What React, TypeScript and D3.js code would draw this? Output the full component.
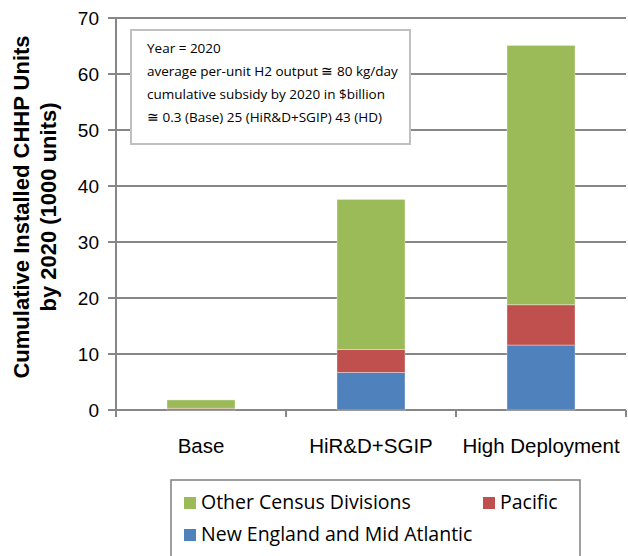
import React from "react";
import * as d3 from "d3";

const categories = ["Base", "HiR&D+SGIP", "High Deployment"];
const newEngland = [0, 6.7, 11.6];
const pacific = [0.3, 4.1, 7.2];
const otherDivisions = [1.5, 26.8, 46.3];
const yTicks = [0, 10, 20, 30, 40, 50, 60, 70];
const seriesNames = ["New England and Mid Atlantic", "Pacific", "Other Census Divisions"];
const colors = ["#4F81BD", "#C0504D", "#9BBB59"];
const noteLines = [
  "Year = 2020",
  "average per-unit H2 output \u2245 80 kg/day",
  "cumulative subsidy by 2020 in $billion",
  "\u2245 0.3 (Base) 25 (HiR&D+SGIP) 43 (HD)",
];

export default function App() {
  const W = 628, H = 556;
  const x0 = 116, x1 = 626, yTop = 18, yBot = 410;
  const x = d3.scaleBand<string>().domain(categories).range([x0, x1]).paddingInner(0.6).paddingOuter(0.3);
  const y = d3.scaleLinear().domain([0, 70]).range([yBot, yTop]);
  const rows = categories.map((c, i) => ({ cat: c, ne: newEngland[i], pa: pacific[i], ot: otherDivisions[i] }));
  const stack = d3.stack<any>().keys(["ne", "pa", "ot"])(rows);
  const step = x.step();
  const catTicks = d3.range(categories.length + 1).map((i) => x0 + i * step);
  const gridColor = "#878787";
  const tickFont = "'Liberation Sans', Arial, sans-serif";
  const calibri = "'Open Sans', 'Noto Sans', sans-serif";

  return (
    <svg width={W} height={H} style={{ position: "absolute", left: 0, top: 0 }}>
      <rect width={W} height={H} fill="#fff" />
      {yTicks.map((t) => (
        <g key={t}>
          <line x1={x0 - 8} x2={x1} y1={y(t)} y2={y(t)} stroke={gridColor} strokeWidth={2} />
          <text x={99} y={y(t)} dy="0.36em" textAnchor="end" fontFamily={tickFont} fontSize={19} fill="#000">{t}</text>
        </g>
      ))}
      {catTicks.map((t, i) => (
        <line key={i} x1={t} x2={t} y1={yBot} y2={yBot + 7} stroke={gridColor} strokeWidth={2} />
      ))}
      <line x1={x0} x2={x0} y1={yTop} y2={yBot + 7} stroke={gridColor} strokeWidth={2} />
      {stack.map((s, si) => (
        <g key={si}>
          {s.map((d, i) => {
            const h = y(d[0]) - y(d[1]);
            if (h <= 0) return null;
            return (
              <rect key={i} x={x(categories[i])} y={y(d[1])} width={x.bandwidth()} height={h}
                fill={colors[si]} stroke="rgba(255,255,255,0.35)" strokeWidth={1} />
            );
          })}
        </g>
      ))}
      {categories.map((c) => (
        <text key={c} x={(x(c) as number) + x.bandwidth() / 2} y={453} textAnchor="middle" fontFamily={tickFont} fontSize={20.5} fill="#000">{c}</text>
      ))}
      <g fontFamily={tickFont} fontWeight="bold" fontSize={22} fill="#000" textAnchor="middle">
        <text transform="translate(29,207) rotate(-90)">Cumulative Installed CHHP Units</text>
        <text transform="translate(56,207) rotate(-90)">by 2020 (1000 units)</text>
      </g>
      <rect x={131} y={30} width={279} height={114} fill="#fff" stroke="#BFBFBF" strokeWidth={2} />
      {noteLines.map((l, i) => (
        <text key={i} x={147} y={53 + i * 23} fontFamily={calibri} fontSize={13.5} fill="#000">{l}</text>
      ))}
      <rect x={171} y={480} width={409} height={90} fill="#fff" stroke="#7F7F7F" strokeWidth={1.5} />
      {[
        { si: 2, lx: 184, ly: 509 },
        { si: 1, lx: 483, ly: 509 },
        { si: 0, lx: 184, ly: 541 },
      ].map((e) => (
        <g key={e.si}>
          <rect x={e.lx} y={e.ly - 12} width={12} height={12} fill={colors[e.si]} />
          <text x={e.lx + 17} y={e.ly} fontFamily={calibri} fontSize={19.5} fill="#000">{seriesNames[e.si]}</text>
        </g>
      ))}
    </svg>
  );
}
